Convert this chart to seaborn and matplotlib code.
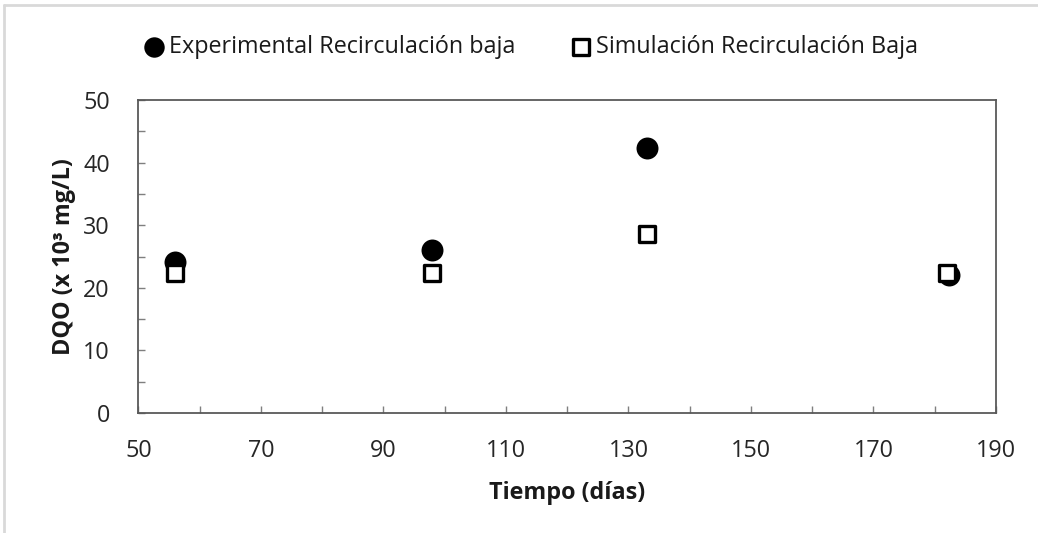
import matplotlib
matplotlib.use("Agg")
import matplotlib.pyplot as plt
from matplotlib.lines import Line2D
from matplotlib.ticker import MultipleLocator
import seaborn as sns
import pandas as pd

# Tiempo (días) y DQO (x 10^3 mg/L)
dias_exp = [56, 98, 133, 182.3]
dqo_exp = [24.2, 26.0, 42.4, 22.1]
dias_sim = [56, 98, 133, 182]
dqo_sim = [22.4, 22.4, 28.6, 22.4]

etiqueta_exp = "Experimental Recirculación baja"
etiqueta_sim = "Simulación Recirculación Baja"
x_ticks = [50, 70, 90, 110, 130, 150, 170, 190]
y_ticks = [0, 10, 20, 30, 40, 50]

sns.set_theme(style="white")
plt.rcParams["font.family"] = ["Open Sans", "DejaVu Sans"]

df_exp = pd.DataFrame({"Tiempo": dias_exp, "DQO": dqo_exp})
df_sim = pd.DataFrame({"Tiempo": dias_sim, "DQO": dqo_sim})

fig = plt.figure(figsize=(10.38, 5.33), dpi=100)
ax = fig.add_axes([0.1334, 0.2251, 0.8261, 0.5873])

sns.scatterplot(data=df_exp, x="Tiempo", y="DQO", ax=ax, marker="o", s=250,
                color="black", edgecolor="black", linewidth=0, label=etiqueta_exp, zorder=3)
sns.scatterplot(data=df_sim, x="Tiempo", y="DQO", ax=ax, marker="s", s=140,
                facecolor="white", edgecolor="black", linewidth=2.4, label=etiqueta_sim, zorder=4)

ax.set_xlim(x_ticks[0], x_ticks[-1])
ax.set_ylim(y_ticks[0], y_ticks[-1])
ax.set_xticks(x_ticks)
ax.set_yticks(y_ticks)
ax.xaxis.set_minor_locator(MultipleLocator(10))
ax.yaxis.set_minor_locator(MultipleLocator(5))
ax.tick_params(axis="both", which="both", direction="in", length=5, width=1,
               color="#7f7f7f", labelsize=16.8, labelcolor="#262626")
ax.tick_params(axis="x", which="major", pad=19)
ax.tick_params(axis="y", which="major", pad=20.5)
ax.tick_params(axis="x", which="both", top=False, bottom=True)
ax.tick_params(axis="y", which="both", left=True, right=False)

for side in ["left", "right", "top", "bottom"]:
    ax.spines[side].set_visible(True)
    ax.spines[side].set_color("#595959")
    ax.spines[side].set_linewidth(1.3)

ax.set_xlabel("Tiempo (días)", fontsize=16.8, fontweight="bold", color="#1a1a1a", labelpad=13)
ax.set_ylabel("DQO (x 10³ mg/L)", fontsize=16.8, fontweight="bold", color="#1a1a1a", labelpad=5)

ax.legend(loc="center", bbox_to_anchor=(0.511, 0.911), bbox_transform=fig.transFigure,
          ncol=2, frameon=False, fontsize=16.8, handlelength=1.0, handletextpad=0.15,
          columnspacing=2.3, markerscale=0.93, labelcolor="#1a1a1a")

# marco exterior gris claro
fig.add_artist(Line2D([0.004, 1.0], [0.991, 0.991], color="#d9d9d9", linewidth=2))
fig.add_artist(Line2D([0.004, 0.004], [0.0, 0.991], color="#d9d9d9", linewidth=2))

fig.savefig("out.png", dpi=100, facecolor="white")
